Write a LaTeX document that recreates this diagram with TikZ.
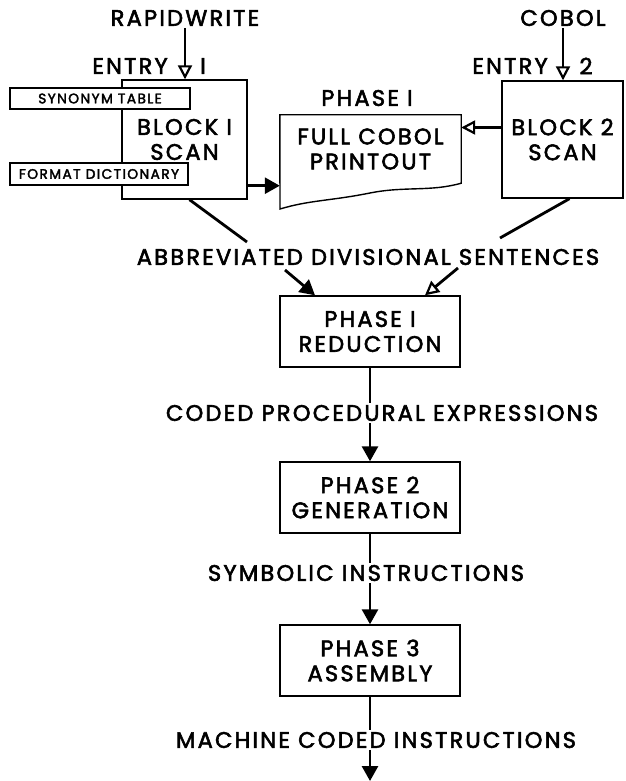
\documentclass[tikz,border=0pt]{standalone}
\usepackage{fontspec}
\setmainfont{Poppins}[LetterSpace=10, FakeBold=2.5]
\usepackage{tikz}
\usetikzlibrary{arrows.meta}

\tikzset{
  bigtext/.style={font=\fontsize{22.5}{25}\selectfont, inner sep=2pt, align=center},
  smalltext/.style={font=\fontsize{13.8}{15}\selectfont},
  scanbox/.style={draw, line width=1.4pt, bigtext},
  tablebox/.style={draw, line width=1.4pt, fill=white, smalltext, inner sep=0pt},
  phasebox/.style={draw, line width=1.4pt, bigtext, minimum width=180pt, minimum height=71pt},
  flow/.style={line width=2.8pt, -{Triangle[length=15pt, width=16pt]}},
  cobolflow/.style={line width=2.8pt, -{Triangle[open, length=14pt, width=14pt, line width=2.2pt]}},
  plain/.style={line width=2.8pt}
}

\begin{document}
\begin{tikzpicture}[x=1pt, y=-1pt]
\useasboundingbox (0,0) rectangle (625,781);

% Inputs
\node[bigtext] (rapid) at (185,18) {RAPIDWRITE};
\node[bigtext] (cobol) at (563,18) {COBOL};

% Scan blocks
\node[scanbox, minimum width=125pt, minimum height=119pt] (block1) at (184.5,139.5) {BLOCK I\\SCAN};
\node[scanbox, minimum width=121pt, minimum height=117pt] (block2) at (562.5,139.5) {BLOCK 2\\SCAN};

% Tables beside block 1
\node[tablebox, minimum width=180pt, minimum height=21pt] (synonym) at (100,98.5) {SYNONYM TABLE};
\node[tablebox, minimum width=178pt, minimum height=22pt] (format) at (99,174) {FORMAT DICTIONARY};

% Entry labels
\node[bigtext] (entry1) at (130,66) {ENTRY};
\node[bigtext] (num1) at (203,66) {I};
\node[bigtext] (entry2) at (510,66) {ENTRY};
\node[bigtext] (num2) at (586,66) {2};

% Entry arrows
\draw[cobolflow] (rapid.south) -- (rapid.south |- block1.north);
\draw[cobolflow] (cobol.south) -- (cobol.south |- block2.north);

% Printout
\node[bigtext, minimum width=181pt, minimum height=68pt] (printout) at (370.5,149) {FULL COBOL\\PRINTOUT};
\node[bigtext] (phaseonetop) at (367,98) {PHASE I};
\draw[line width=1.4pt] (printout.north west) -- (printout.north east) -- (printout.south east)
  .. controls (430,192) and (405,186) .. (370,193)
  .. controls (330,201) and (310,200) .. (280,209) -- cycle;

\draw[flow] ([yshift=14pt]block1.south east) -- ([yshift=14pt]block1.south east -| printout.west);
\draw[cobolflow] ([yshift=12pt]block2.west) -- ([yshift=12pt]block2.west -| printout.east);

% Phase boxes
\node[phasebox] (phase1) at (370,331.5) {PHASE I\\REDUCTION};
\node[phasebox] (phase2) at (370,497.5) {PHASE 2\\GENERATION};
\node[phasebox] (phase3) at (370,660.5) {PHASE 3\\ASSEMBLY};

% Data labels
\node[bigtext] (abbr) at (368,257) {ABBREVIATED DIVISIONAL SENTENCES};
\node[bigtext] (coded) at (382,413) {CODED PROCEDURAL EXPRESSIONS};
\node[bigtext] (symbolic) at (366,573) {SYMBOLIC INSTRUCTIONS};
\node[bigtext] (machine) at (376,740) {MACHINE CODED INSTRUCTIONS};

% Diagonals into phase 1
\coordinate (d1) at (247,242);
\coordinate (d2) at (500,238);
\coordinate (a1) at (285,270);
\coordinate (a2) at (458,268);
\draw[plain] ([xshift=5pt]block1.south) -- (d1);
\draw[plain] ([xshift=7pt]block2.south) -- (d2);
\draw[flow] (a1) -- ([xshift=-55pt]phase1.north);
\draw[cobolflow] (a2) -- ([xshift=55pt]phase1.north);

% Main flow
\coordinate (out) at (370,781);
\draw[plain] (phase1.south) -- (phase1.south |- coded.north);
\draw[flow] (phase1.south |- coded.south) -- (phase2.north);
\draw[plain] (phase2.south) -- (phase2.south |- symbolic.north);
\draw[flow] (phase2.south |- symbolic.south) -- (phase3.north);
\draw[plain] (phase3.south) -- (phase3.south |- machine.north);
\draw[flow] (phase3.south |- machine.south) -- (out);
\end{tikzpicture}
\end{document}
